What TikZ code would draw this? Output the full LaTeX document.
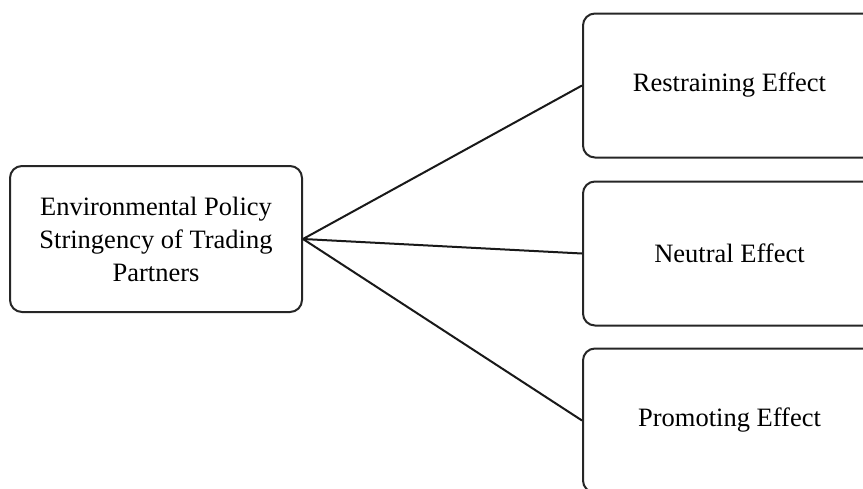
\documentclass[tikz,border=0pt]{standalone}
\usepackage{fontspec}
\setmainfont{Liberation Serif}
\begin{document}
\begin{tikzpicture}[x=1pt,y=-1pt,
  box/.style={draw=black!85, line width=2pt, rounded corners=12pt, align=center,
    font=\fontsize{26.5}{33}\selectfont, inner sep=0pt},
  leftbox/.style={box, minimum width=292pt, minimum height=146pt},
  rightbox/.style={box, minimum width=293pt, minimum height=144pt},
  link/.style={draw=black!90, line width=2pt}]
\useasboundingbox (0,0) rectangle (863,488);
\clip (0,0) rectangle (863,488);
\node[leftbox] (src) at (156,239) {Environmental Policy\\Stringency of Trading\\Partners};
\node[rightbox] (r1) at (729.5,85.5) {Restraining Effect};
\node[rightbox] (r2) at (729.5,253.5) {Neutral Effect};
\node[rightbox] (r3) at (729.5,420.5) {Promoting Effect};
\draw[link] (src.east) -- (r1.west);
\draw[link] (src.east) -- (r2.west);
\draw[link] (src.east) -- (r3.west);
\end{tikzpicture}
\end{document}
